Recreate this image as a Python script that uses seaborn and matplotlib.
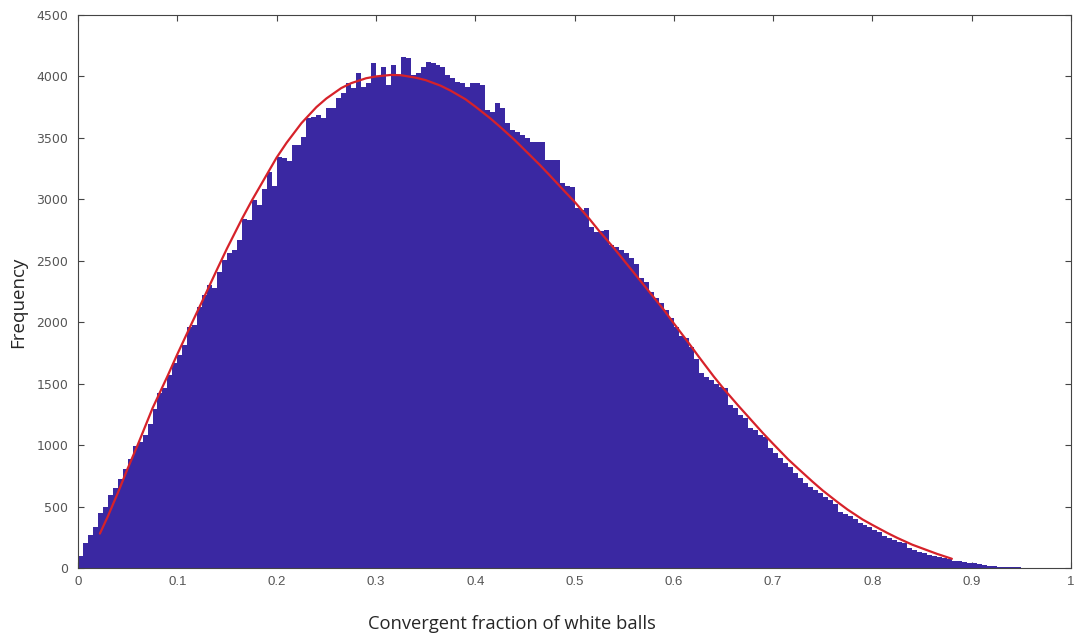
import numpy as np
import pandas as pd
import matplotlib
matplotlib.use("Agg")
import matplotlib.pyplot as plt
import seaborn as sns

sns.set_style("ticks")
plt.rcParams['font.family'] = ['Open Sans', 'DejaVu Sans']

# ------------------------------------------------------------------
# Data: 200 bins of width 0.005 on [0, 1]
# ------------------------------------------------------------------
bin_width = 0.005
counts = [
    100, 200, 268, 336, 447, 499, 594, 650, 724, 806,
    887, 993, 1028, 1082, 1170, 1290, 1420, 1465, 1570, 1668,
    1733, 1815, 1963, 1977, 2126, 2221, 2303, 2276, 2411, 2506,
    2561, 2588, 2669, 2840, 2835, 2994, 2950, 3085, 3225, 3110,
    3347, 3333, 3310, 3440, 3442, 3510, 3659, 3672, 3686, 3659,
    3740, 3740, 3822, 3862, 3944, 3903, 4025, 3917, 3944, 4107,
    3998, 4079, 3930, 4093, 4011, 4161, 4148, 4011, 4025, 4079,
    4120, 4107, 4093, 4079, 4010, 3990, 3957, 3944, 3917, 3944,
    3944, 3930, 3727, 3713, 3781, 3740, 3618, 3564, 3550, 3523,
    3496, 3469, 3469, 3469, 3320, 3320, 3320, 3130, 3110, 3103,
    2930, 2915, 2927, 2777, 2736, 2740, 2750, 2628, 2614, 2588,
    2560, 2520, 2470, 2357, 2330, 2248, 2200, 2154, 2100, 2032,
    1960, 1890, 1869, 1801, 1700, 1584, 1557, 1530, 1500, 1470,
    1462, 1326, 1299, 1245, 1218, 1137, 1123, 1082, 1068, 974,
    933, 893, 852, 824, 770, 730, 689, 662, 635, 608,
    581, 553, 520, 458, 440, 425, 395, 370, 350, 336,
    310, 295, 260, 241, 228, 215, 201, 160, 150, 133,
    125, 106, 98, 90, 79, 70, 60, 60, 50, 40,
    38, 30, 24, 18, 16, 12, 10, 8, 6, 5,
    4, 3, 3, 2, 2, 1, 1, 1, 0, 0,
]

# fitted curve (red)
fit_x = [0.022, 0.03, 0.04, 0.05, 0.06, 0.075, 0.09, 0.1, 0.115, 0.125,
         0.14, 0.15, 0.165, 0.175, 0.19, 0.2, 0.21, 0.225, 0.24, 0.25,
         0.265, 0.275, 0.29, 0.3, 0.315, 0.325, 0.34, 0.35, 0.365, 0.375,
         0.39, 0.4, 0.415, 0.425, 0.44, 0.45, 0.465, 0.475, 0.49, 0.5,
         0.515, 0.525, 0.54, 0.55, 0.565, 0.575, 0.59, 0.6, 0.615, 0.625,
         0.64, 0.65, 0.665, 0.675, 0.69, 0.7, 0.715, 0.725, 0.74, 0.75,
         0.765, 0.775, 0.79, 0.8, 0.815, 0.825, 0.84, 0.85, 0.865, 0.88]
fit_y = [280, 420, 610, 810, 1000, 1300, 1560, 1740, 2000, 2170,
         2430, 2600, 2840, 2990, 3200, 3340, 3460, 3620, 3750, 3820,
         3905, 3945, 3985, 4000, 4012, 4010, 3990, 3970, 3925, 3885,
         3815, 3755, 3660, 3590, 3480, 3400, 3280, 3195, 3065, 2980,
         2840, 2740, 2600, 2500, 2350, 2250, 2100, 1990, 1830, 1720,
         1560, 1460, 1320, 1230, 1095, 1010, 885, 810, 700, 630,
         535, 475, 395, 350, 285, 245, 190, 160, 115, 75]

xticks = [0, 0.1, 0.2, 0.3, 0.4, 0.5, 0.6, 0.7, 0.8, 0.9, 1]
xtick_labels = ["0", "0.1", "0.2", "0.3", "0.4", "0.5", "0.6", "0.7", "0.8", "0.9", "1"]
yticks = list(range(0, 4501, 500))

centers = (np.arange(len(counts)) + 0.5) * bin_width
df = pd.DataFrame({"x": centers, "count": counts})
fit = pd.DataFrame({"x": fit_x, "y": fit_y})

# ------------------------------------------------------------------
# Plot
# ------------------------------------------------------------------
fig = plt.figure(figsize=(10.81, 6.4), dpi=100)
ax = fig.add_axes([0.0722, 0.1125, 0.9186, 0.8641])

sns.histplot(data=df, x="x", weights="count", binwidth=bin_width,
             binrange=(0, len(counts) * bin_width), ax=ax,
             color="#3a28a2", alpha=1.0, linewidth=0, edgecolor="none")
sns.lineplot(data=fit, x="x", y="y", ax=ax, color="#d6222a", linewidth=1.6)

ax.set_xlim(0, 1)
ax.set_ylim(0, 4500)
ax.set_xticks(xticks)
ax.set_xticklabels(xtick_labels, family="Liberation Sans", fontsize=9.5, color="#555555")
ax.set_yticks(yticks)
ax.set_yticklabels([str(t) for t in yticks], family="DejaVu Sans", fontsize=9, color="#555555")
ax.tick_params(direction="in", length=4, width=0.8, color="#444444",
               top=True, right=True)
ax.tick_params(axis="y", pad=7)
ax.tick_params(axis="x", pad=6)

for s in ax.spines.values():
    s.set_color("#444444")
    s.set_linewidth(0.8)

ax.set_xlabel("Convergent fraction of white balls", fontsize=13.2)
ax.xaxis.set_label_coords(0.437, -0.085)
ax.set_ylabel("Frequency", fontsize=13.5)
ax.yaxis.set_label_coords(-0.051, 0.48)

fig.savefig("out.png", dpi=100)
